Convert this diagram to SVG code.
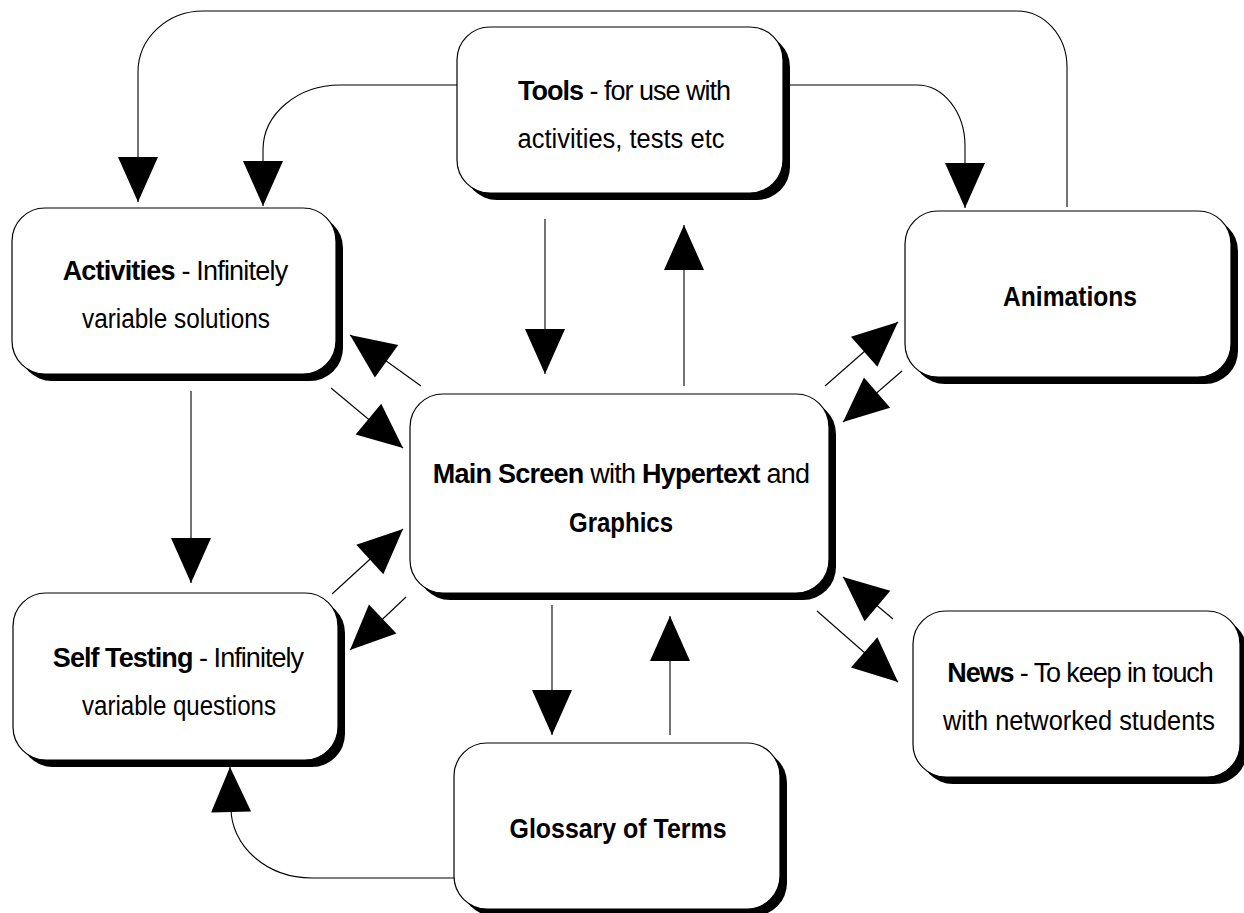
<svg xmlns="http://www.w3.org/2000/svg" width="1244" height="913" viewBox="0 0 1244 913">
<style>
.shadow{fill:#000;stroke:none}
.box{fill:#fff;stroke:#000;stroke-width:1.2}
.t{font-family:"Liberation Sans",Arial,sans-serif;font-size:27px;fill:#000;text-anchor:middle}
.b{font-weight:bold}
.c{fill:none;stroke:#000;stroke-width:1.1}
</style>
<defs>
<marker id="ah" markerUnits="userSpaceOnUse" markerWidth="46" markerHeight="40" viewBox="0 0 46 40" refX="45" refY="20" orient="auto" overflow="visible">
<path d="M0,0 L45,20 L0,40 z" fill="#000"/>
</marker>
</defs>
<rect width="1244" height="913" fill="#fff"/>

<g id="connectors">
<path class="c" marker-end="url(#ah)" d="M1067,207 L1067,67 A50,56 0 0 0 1017,11 L203,11 A65,61 0 0 0 138,72 L138,202"/>
<path class="c" marker-end="url(#ah)" d="M457,85 L340,85 A77,65 0 0 0 263,150 L263,206"/>
<path class="c" marker-end="url(#ah)" d="M790,85 L917,85 A48,61 0 0 1 965,146 L965,208"/>
<path class="c" marker-end="url(#ah)" d="M545,219 L545,374"/>
<path class="c" marker-end="url(#ah)" d="M684,386 L684,225"/>
<path class="c" marker-end="url(#ah)" d="M421,386 L350,335"/>
<path class="c" marker-end="url(#ah)" d="M331,388 L403,448"/>
<path class="c" marker-end="url(#ah)" d="M191,391 L191,583"/>
<path class="c" marker-end="url(#ah)" d="M332,594 L403,529"/>
<path class="c" marker-end="url(#ah)" d="M406,597 L350,650"/>
<path class="c" marker-end="url(#ah)" d="M825,386 L898,322"/>
<path class="c" marker-end="url(#ah)" d="M902,371 L843,422"/>
<path class="c" marker-end="url(#ah)" d="M817,611 L898,682"/>
<path class="c" marker-end="url(#ah)" d="M893,619 L843,577"/>
<path class="c" marker-end="url(#ah)" d="M552,605 L552,735"/>
<path class="c" marker-end="url(#ah)" d="M670,735 L670,616"/>
<path class="c" marker-end="url(#ah)" d="M455,878 L312,878 A81,70 0 0 1 231,808 L230,767"/>
</g>

<g id="tools">
<rect class="shadow" x="464" y="34" width="326" height="166" rx="33"/>
<rect class="box" x="457" y="27" width="326" height="166" rx="33"/>
<text class="t" x="624" y="100" letter-spacing="-1"><tspan class="b">Tools</tspan> - for use with</text>
<text class="t" x="621" y="148" textLength="207" lengthAdjust="spacingAndGlyphs">activities, tests etc</text>
</g>

<g id="activities">
<rect class="shadow" x="19" y="215" width="324" height="166" rx="33"/>
<rect class="box" x="12" y="208" width="324" height="166" rx="33"/>
<text class="t" x="175" y="280" letter-spacing="-0.8"><tspan class="b">Activities</tspan> - Infinitely</text>
<text class="t" x="176" y="328" textLength="188" lengthAdjust="spacingAndGlyphs">variable solutions</text>
</g>

<g id="animations">
<rect class="shadow" x="912" y="218" width="326" height="166" rx="33"/>
<rect class="box" x="905" y="211" width="326" height="166" rx="33"/>
<text class="t b" x="1070" y="306" textLength="134" lengthAdjust="spacingAndGlyphs">Animations</text>
</g>

<g id="main">
<rect class="shadow" x="417" y="401" width="419" height="199" rx="33"/>
<rect class="box" x="410" y="394" width="419" height="199" rx="33"/>
<text class="t" x="621" y="483" letter-spacing="-0.75"><tspan class="b">Main Screen</tspan> with <tspan class="b">Hypertext</tspan> and</text>
<text class="t b" x="621" y="532" textLength="104" lengthAdjust="spacingAndGlyphs">Graphics</text>
</g>

<g id="self-testing">
<rect class="shadow" x="20" y="600" width="325" height="167" rx="33"/>
<rect class="box" x="13" y="593" width="325" height="167" rx="33"/>
<text class="t" x="178" y="667" letter-spacing="-0.95"><tspan class="b">Self Testing</tspan> - Infinitely</text>
<text class="t" x="179" y="715" textLength="194" lengthAdjust="spacingAndGlyphs">variable questions</text>
</g>

<g id="news">
<rect class="shadow" x="920" y="618" width="327" height="166" rx="33"/>
<rect class="box" x="913" y="611" width="327" height="166" rx="33"/>
<text class="t" x="1080" y="682" letter-spacing="-1.1"><tspan class="b">News</tspan> - To keep in touch</text>
<text class="t" x="1079" y="730" textLength="272" lengthAdjust="spacingAndGlyphs">with networked students</text>
</g>

<g id="glossary">
<rect class="shadow" x="461" y="750" width="326" height="166" rx="33"/>
<rect class="box" x="454" y="743" width="326" height="166" rx="33"/>
<text class="t b" x="618" y="838" textLength="217" lengthAdjust="spacingAndGlyphs">Glossary of Terms</text>
</g>
</svg>
